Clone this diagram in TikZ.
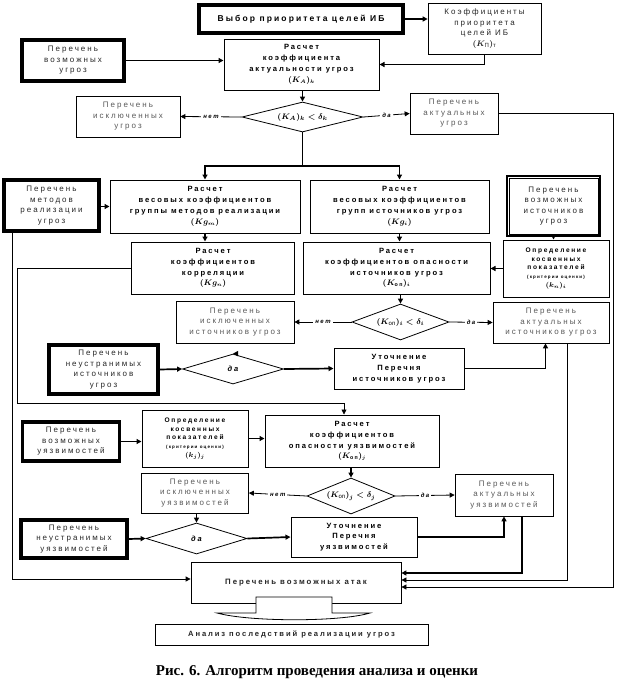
\documentclass[tikz,border=0pt]{standalone}
\usepackage{amsmath}
\usepackage{fontspec}
\setmainfont{Liberation Sans}
\newfontfamily\lsf[LetterSpace=25]{Liberation Sans}
\newfontfamily\capfont{Liberation Serif}
\usetikzlibrary{arrows.meta,shapes.geometric,positioning}

\begin{document}
\begin{tikzpicture}[x=1pt,y=-1pt,>={Triangle[length=5pt,width=5pt]}]

\tikzstyle{listbox}=[draw,line width=0.7pt,align=center,inner sep=1pt,font=\lsf\fontsize{8}{10.5}\selectfont,text=black!65]
\tikzstyle{srcbox}=[listbox,line width=3.5pt,text=black!85]
\tikzstyle{calcbox}=[draw,line width=1pt,align=center,inner sep=1pt,font=\lsf\bfseries\fontsize{7.6}{10.8}\selectfont]
\tikzstyle{kbox}=[calcbox,font=\lsf\bfseries\fontsize{6.6}{8.6}\selectfont]
\tikzstyle{cond}=[diamond,aspect=3.5,draw,line width=0.8pt,inner sep=0pt,font=\fontsize{8}{9}\selectfont\boldmath]
\tikzstyle{yn}=[fill=white,inner sep=2pt,font=\lsf\bfseries\itshape\fontsize{6}{7}\selectfont]
\tikzstyle{flow}=[->,line width=0.8pt]
\tikzstyle{bflow}=[->,line width=1.7pt]

\useasboundingbox (0,0) rectangle (620,696);

%priorities
\node[srcbox,minimum width=204pt,minimum height=28pt,font=\lsf\bfseries\fontsize{8.5}{10}\selectfont,text=black] (vybor) at (301,19) {Выбор приоритета целей ИБ};
\node[listbox,minimum width=113pt,minimum height=51pt,text=black!85] (kpr) at (484.5,28.5) {Коэффициенты\\приоритета\\целей ИБ\\{\boldmath$(K_{\text{П}})_{\text{т}}$}};

%threats
\node[srcbox,minimum width=102pt,minimum height=41pt] (ugr) at (73,60.5) {Перечень\\возможных\\угроз};
\node[calcbox,minimum width=155pt,minimum height=51pt] (ka) at (301.5,64.5) {Расчет\\коэффициента\\актуальности угроз\\{\boldmath$(K_{A})_{k}$}};
\node[listbox,minimum width=104pt,minimum height=41pt] (isk1) at (128,116.5) {Перечень\\исключенных\\угроз};
\node[cond,minimum width=121pt,minimum height=30pt] (d1) at (302.5,117) {$(K_{A})_{k}<\delta_{k}$};
\node[listbox,minimum width=88pt,minimum height=41pt] (akt1) at (454,113.5) {Перечень\\актуальных\\угроз};

%weights
\node[srcbox,minimum width=95pt,minimum height=51pt] (met) at (51.5,205.5) {Перечень\\методов\\реализации\\угроз};
\node[calcbox,minimum width=190pt,minimum height=53pt] (vm) at (205,206.5) {Расчет\\весовых коэффициентов\\группы методов реализации\\{\boldmath$(Kg_{m})$}};
\node[calcbox,minimum width=179pt,minimum height=53pt] (vi) at (399.5,206.5) {Расчет\\весовых коэффициентов\\групп источников угроз\\{\boldmath$(Kg_{i})$}};
\node[listbox,line width=2pt,minimum width=93pt,minimum height=60pt,text=black!85] (ist) at (553.5,206) {Перечень\\возможных\\источников\\угроз};
\draw[line width=0.6pt] ([shift={(3pt,-3pt)}]ist.north west) rectangle ([shift={(-3pt,3pt)}]ist.south east);

%sources
\node[calcbox,minimum width=163pt,minimum height=52pt] (kor) at (213,268) {Расчет\\коэффициентов\\корреляции\\{\boldmath$(Kg_{n})$}};
\node[calcbox,minimum width=187pt,minimum height=52pt] (opi) at (396.5,268) {Расчет\\коэффициентов опасности\\источников угроз\\{\boldmath$(K_{\text{оп}})_{i}$}};
\node[kbox,minimum width=106pt,minimum height=57pt] (kpi) at (556,268.5) {Определение\\косвенных\\показателей\\{\fontsize{4.5}{5}\selectfont(критерии оценки)}\\{\boldmath$(k_{n})_{i}$}};
\node[cond,minimum width=97pt,minimum height=36pt] (d2) at (400.5,322) {$(K_{\text{оп}})_{i}<\delta_{i}$};
\node[listbox,minimum width=118pt,minimum height=42pt] (isk2) at (235,322) {Перечень\\исключенных\\источников угроз};
\node[listbox,minimum width=116pt,minimum height=41pt] (akt2) at (551,322.5) {Перечень\\актуальных\\источников угроз};
\node[srcbox,minimum width=109pt,minimum height=49pt] (neu1) at (103.5,369.5) {Перечень\\неустранимых\\источников\\угроз};
\node[cond,minimum width=101pt,minimum height=30pt,font=\lsf\bfseries\itshape\fontsize{7.5}{9}\selectfont] (d3) at (233,369) {да};
\node[calcbox,minimum width=130pt,minimum height=41pt] (ut1) at (399,368.5) {Уточнение\\Перечня\\источников угроз};

%vulnerabilities
\node[srcbox,minimum width=97pt,minimum height=39pt] (uyaz) at (71,441.5) {Перечень\\возможных\\уязвимостей};
\node[kbox,minimum width=106pt,minimum height=57pt] (kpj) at (195,438.5) {Определение\\косвенных\\показателей\\{\fontsize{4.5}{5}\selectfont(критерии оценки)}\\{\boldmath$(k_{j})_{j}$}};
\node[calcbox,minimum width=174pt,minimum height=52pt] (opj) at (352,441) {Расчет\\коэффициентов\\опасности уязвимостей\\{\boldmath$(K_{\text{оп}})_{j}$}};
\node[cond,minimum width=88pt,minimum height=36pt] (d4) at (351,496) {$(K_{\text{оп}})_{j}<\delta_{j}$};
\node[listbox,minimum width=107pt,minimum height=40pt] (isk3) at (195,493) {Перечень\\исключенных\\уязвимостей};
\node[listbox,minimum width=98pt,minimum height=42pt] (akt3) at (504,495) {Перечень\\актуальных\\уязвимостей};
\node[srcbox,minimum width=106pt,minimum height=38pt] (neu2) at (74,539) {Перечень\\неустранимых\\уязвимостей};
\node[cond,minimum width=101pt,minimum height=31pt,font=\lsf\bfseries\itshape\fontsize{7.5}{9}\selectfont] (d5) at (196.5,538.5) {да};
\node[calcbox,minimum width=126pt,minimum height=40pt] (ut2) at (354,537) {Уточнение\\Перечня\\уязвимостей};

%attacks
\node[listbox,line width=0.8pt,minimum width=210pt,minimum height=41pt,font=\lsf\bfseries\fontsize{7.8}{9}\selectfont,text=black!85] (atk) at (296,582.5) {Перечень возможных атак};
\node[listbox,line width=0.8pt,minimum width=273pt,minimum height=21pt,font=\lsf\bfseries\fontsize{7.6}{9}\selectfont,text=black!85] (an) at (291.5,634.5) {Анализ последствий реализации угроз};
\draw[line width=0.8pt,fill=white] (256,597) -- (256,613) -- (217,613) .. controls (250,622) and (340,622) .. (370,613) -- (332,613) -- (332,597) -- cycle;

\node[font=\capfont\bfseries\fontsize{15}{17}\selectfont] (cap) at (317,672) {Рис. 6. Алгоритм проведения анализа и оценки};

%free ends of the long lines
\coordinate (sp) at (302.5,166);
\coordinate (r1) at (613,587);
\coordinate (r2) at (567,580);
\coordinate (r3) at (522,573);
\coordinate (l1) at (12,579);
\coordinate (l2) at (17,403);
\coordinate (k2) at (344,403);

\path (vybor.east) edge[bflow] (vybor.east -| kpr.west)
      (ugr.east) edge[bflow] (ugr.east -| ka.west)
      (d1.north |- ka.south) edge[bflow] (d1.north)
      (d1.west) edge[flow] node[yn] {нет} (isk1.east)
      (d1.east) edge[flow] node[yn] {да} (akt1.west)
%weights
      (met.east |- vm.west) edge[bflow] (vm.west)
      (vm.south) edge[bflow] (vm.south |- kor.north)
      (vi.south) edge[bflow] (vi.south |- opi.north)
      (ist.south) edge[bflow] (ist.south |- kpi.north)
      (kpi.west) edge[bflow] (kpi.west -| opi.east)
%sources
      (d2.north |- opi.south) edge[bflow] (d2.north)
      (d2.west) edge[flow] node[yn] {нет} (isk2.east)
      (d2.east) edge[flow] node[yn] {да} (akt2.west)
      (d3.north -| isk2.south) edge[bflow] (d3.north)
      (neu1.east) edge[bflow] (d3.west)
      (d3.east) edge[bflow] (ut1.west)
%vulnerabilities
      (uyaz.east) edge[bflow] (uyaz.east -| kpj.west)
      (kpj.east) edge[bflow] (kpj.east -| opj.west)
      (d4.north |- opj.south) edge[bflow] (d4.north)
      (d4.west) edge[flow] node[yn] {нет} (isk3.east)
      (d4.east) edge[flow] node[yn] {да} (akt3.west)
      (d5.north |- isk3.south) edge[bflow] (d5.north)
      (neu2.east) edge[bflow] (d5.west)
      (d5.east) edge[bflow] (ut2.west);

\draw[bflow] (kpr.south) |- (ka.east);
\draw[bflow] (d1.south) -- (sp) -| (vm.north);
\draw[bflow] (sp) -| (vi.north);
\draw[bflow] (ut1.east) -| ([xshift=-5.5pt]akt2.south);
\draw[bflow] (ut2.east) -| (akt3.south);
\draw[flow] (kor.west) -| (l2) -- (k2) -- (k2 |- opj.north);
\draw[flow] (met.south -| l1) -- (l1) -- (l1 -| atk.west);
%to attacks
\draw[flow] (akt1.east) -| (r1) -- (r1 -| atk.east);
\draw[flow] (akt2.south -| r2) -- (r2) -- (r2 -| atk.east);
\draw[bflow,line width=1.3pt] (akt3.south -| r3) -- (r3) -- (r3 -| atk.east);

\end{tikzpicture}
\end{document}
